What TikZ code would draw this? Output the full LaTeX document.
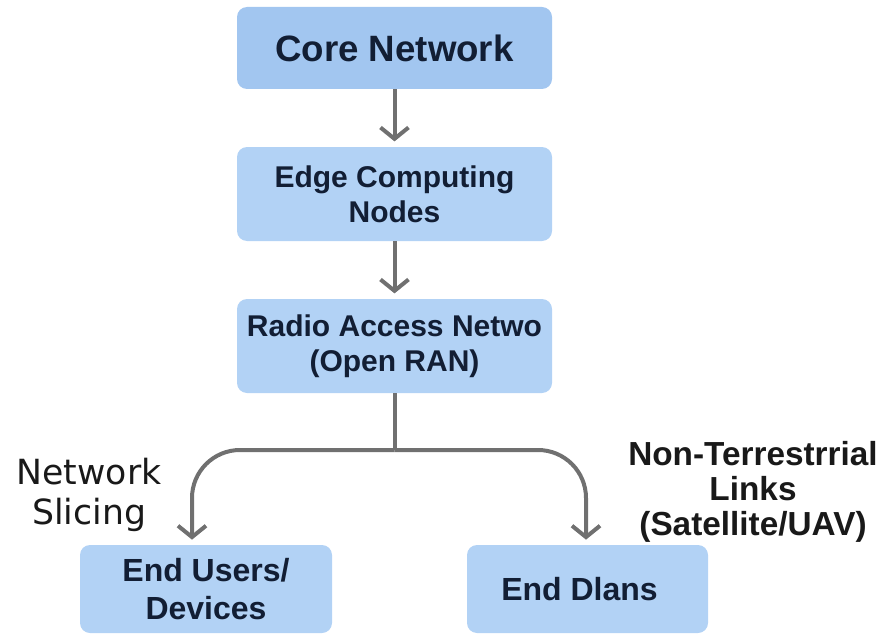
\documentclass[tikz,border=0pt]{standalone}
\usepackage{fontspec}
\setmainfont{Liberation Sans}
\newfontfamily\slicefont{DejaVu Sans}
\usetikzlibrary{arrows.meta}

\definecolor{corefill}{RGB}{162,198,240}
\definecolor{boxfill}{RGB}{178,210,245}
\definecolor{boxtext}{RGB}{18,30,52}
\definecolor{linkgray}{RGB}{112,112,112}
\definecolor{labeltext}{RGB}{25,25,25}

\begin{document}
\begin{tikzpicture}[x=0.75pt,y=0.75pt,yscale=-1,xscale=1,
  blockbox/.style={fill=boxfill, rounded corners=7.5pt, text=boxtext, align=center, inner sep=0pt,
    font=\bfseries\fontsize{22.5}{26.5}\selectfont},
  endbox/.style={blockbox, minimum height=66pt, font=\bfseries\fontsize{24}{28}\selectfont},
  flow/.style={draw=linkgray, line width=3pt, -{Straight Barb[length=8.5pt,width=21pt]}, shorten >=4pt},
  trunk/.style={draw=linkgray, line width=3pt}]
%set diagram to 882 x 635
\useasboundingbox (0,0) rectangle (882,635);

%Shape: Rounded Rect [id:core]
\node [blockbox, fill=corefill, minimum width=236.25pt, minimum height=61.5pt,
  font=\bfseries\fontsize{27.5}{33}\selectfont] (core) at (394.5,48) {Core Network};
%Shape: Rounded Rect [id:edge]
\node [blockbox, minimum width=236.25pt, minimum height=70.5pt] (edge) at (394.5,194) {Edge Computing\\Nodes};
%Shape: Rounded Rect [id:radio]
\node [blockbox, minimum width=236.25pt, minimum height=70.5pt] (radio) at (394.5,346) {Radio Access Netwo\\(Open RAN)};
%Shape: Rounded Rect [id:users]
\node [endbox, minimum width=189pt] (users) at (206,589) {End Users/\\Devices};
%Shape: Rounded Rect [id:dlans]
\node [endbox, minimum width=180.75pt] (dlans) at (587.5,589) {End Dlans\hspace*{12pt}};

%Straight Lines
\draw [flow] (core) -- (edge);
\draw [flow] (edge) -- (radio);

%Branch
\coordinate (split) at (394.5,450);
\coordinate (usersin) at (192,545);
\coordinate (dlansin) at (586,545);
\draw [trunk] (radio) -- (split);
\draw [flow, rounded corners=36pt] (split) -| (usersin);
\draw [flow, rounded corners=36pt] (split) -| (dlansin);

% Text Node
\node [text=labeltext, align=center, font=\slicefont\fontsize{26}{30}\selectfont] (slicing) at (89,495) {Network\\Slicing};
% Text Node
\node [text=labeltext, align=center, font=\bfseries\fontsize{25}{26}\selectfont] (ntn) at (753,492) {Non-Terrestrrial\\Links\\(Satellite/UAV)};

\end{tikzpicture}
\end{document}
